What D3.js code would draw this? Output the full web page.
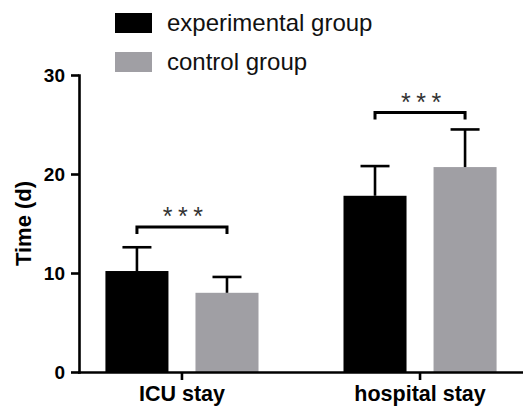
<!DOCTYPE html>
<html>
<head>
<meta charset="utf-8">
<script src="https://cdn.jsdelivr.net/npm/d3@7"></script>
<style>
  html, body { margin: 0; padding: 0; background: #fff; }
  svg { display: block; font-family: "Liberation Sans", Arial, Helvetica, sans-serif; }
</style>
</head>
<body>
<svg id="chart" width="523" height="410"></svg>
<script>
// ---- data ----
const categories = ["ICU stay", "hospital stay"];
const seriesNames = ["experimental group", "control group"];
const seriesColors = ["#000000", "#a09fa4"];
const experimentalMean = [10.2, 17.8];
const experimentalSD = [2.4, 3.0];
const controlMean = [8.0, 20.7];
const controlSD = [1.6, 3.8];
const bracketHeights = [14.65, 26.2];
const bracketLabels = ["***", "***"];
const yTicks = [0, 10, 20, 30];
const yLabel = "Time (d)";

// ---- layout ----
const svg = d3.select("#chart");
const plotLeft = 79, plotRight = 523, plotTop = 75, plotBottom = 372;

const x = d3.scaleBand().domain(categories).range([plotLeft, plotRight])
  .paddingInner(0.357).paddingOuter(0.111);
const xSub = d3.scaleBand().domain(seriesNames).range([0, x.bandwidth()])
  .paddingInner(0.3).paddingOuter(0);
const y = d3.scaleLinear().domain([0, 30]).range([plotBottom, plotTop]);

const rows = [];
categories.forEach((c, i) => {
  rows.push({cat: c, s: seriesNames[0], mean: experimentalMean[i], sd: experimentalSD[i], color: seriesColors[0]});
  rows.push({cat: c, s: seriesNames[1], mean: controlMean[i], sd: controlSD[i], color: seriesColors[1]});
});

// bars
svg.append("g").selectAll("rect").data(rows).join("rect")
  .attr("x", d => x(d.cat) + xSub(d.s))
  .attr("y", d => y(d.mean))
  .attr("width", xSub.bandwidth())
  .attr("height", d => y(0) - y(d.mean))
  .attr("fill", d => d.color);

// error bars (upper)
const capHalf = 14.5;
const eb = svg.append("g").attr("stroke", "#000").attr("stroke-width", 2.6).attr("fill", "none");
rows.forEach(d => {
  const cx = x(d.cat) + xSub(d.s) + xSub.bandwidth() / 2;
  eb.append("line").attr("x1", cx).attr("x2", cx).attr("y1", y(d.mean)).attr("y2", y(d.mean + d.sd));
  eb.append("line").attr("x1", cx - capHalf).attr("x2", cx + capHalf)
    .attr("y1", y(d.mean + d.sd)).attr("y2", y(d.mean + d.sd));
});

// significance brackets
const br = svg.append("g");
const starSpacing = 5.5;
categories.forEach((c, i) => {
  const x1 = x(c) + xSub(seriesNames[0]) + xSub.bandwidth() / 2;
  const x2 = x(c) + xSub(seriesNames[1]) + xSub.bandwidth() / 2;
  const by = y(bracketHeights[i]);
  br.append("path")
    .attr("d", `M${x1},${by + 7}V${by}H${x2}V${by + 7}`)
    .attr("fill", "none").attr("stroke", "#000").attr("stroke-width", 3);
  br.append("text")
    .attr("x", (x1 + x2) / 2 + starSpacing / 2 + 1).attr("y", by - 2)
    .attr("text-anchor", "middle")
    .attr("font-size", 25).attr("letter-spacing", starSpacing)
    .attr("fill", "#333")
    .text(bracketLabels[i]);
});

// axes
const yAxis = svg.append("g").attr("transform", `translate(${plotLeft},0)`)
  .call(d3.axisLeft(y).tickValues(yTicks).tickSize(8).tickSizeOuter(0).tickPadding(6));
const xAxis = svg.append("g").attr("transform", `translate(0,${plotBottom})`)
  .call(d3.axisBottom(x).tickSize(8).tickSizeOuter(0).tickPadding(6));

[yAxis, xAxis].forEach(g => {
  g.selectAll("path.domain").attr("stroke", "#000").attr("stroke-width", 2.6).attr("stroke-linecap", "square");
  g.selectAll(".tick line").attr("stroke", "#000").attr("stroke-width", 2.6);
  g.selectAll(".tick text").attr("fill", "#000").attr("font-weight", "bold")
    .attr("font-family", "'Liberation Sans', Arial, sans-serif");
});
yAxis.selectAll(".tick text").attr("font-size", 19);
xAxis.selectAll(".tick text").attr("font-size", 21.5);

// y label
svg.append("text")
  .attr("transform", `translate(31,${(plotTop + plotBottom) / 2}) rotate(-90)`)
  .attr("text-anchor", "middle")
  .attr("font-size", 22).attr("font-weight", "bold")
  .text(yLabel);

// legend
const lg = svg.append("g");
seriesNames.forEach((s, i) => {
  const ly = 13 + i * 39;
  lg.append("rect").attr("x", 115).attr("y", ly).attr("width", 37).attr("height", 20).attr("fill", seriesColors[i]);
  lg.append("text").attr("x", 167).attr("y", ly + 18).attr("font-size", 24).attr("fill", "#111").text(s);
});
</script>
</body>
</html>
